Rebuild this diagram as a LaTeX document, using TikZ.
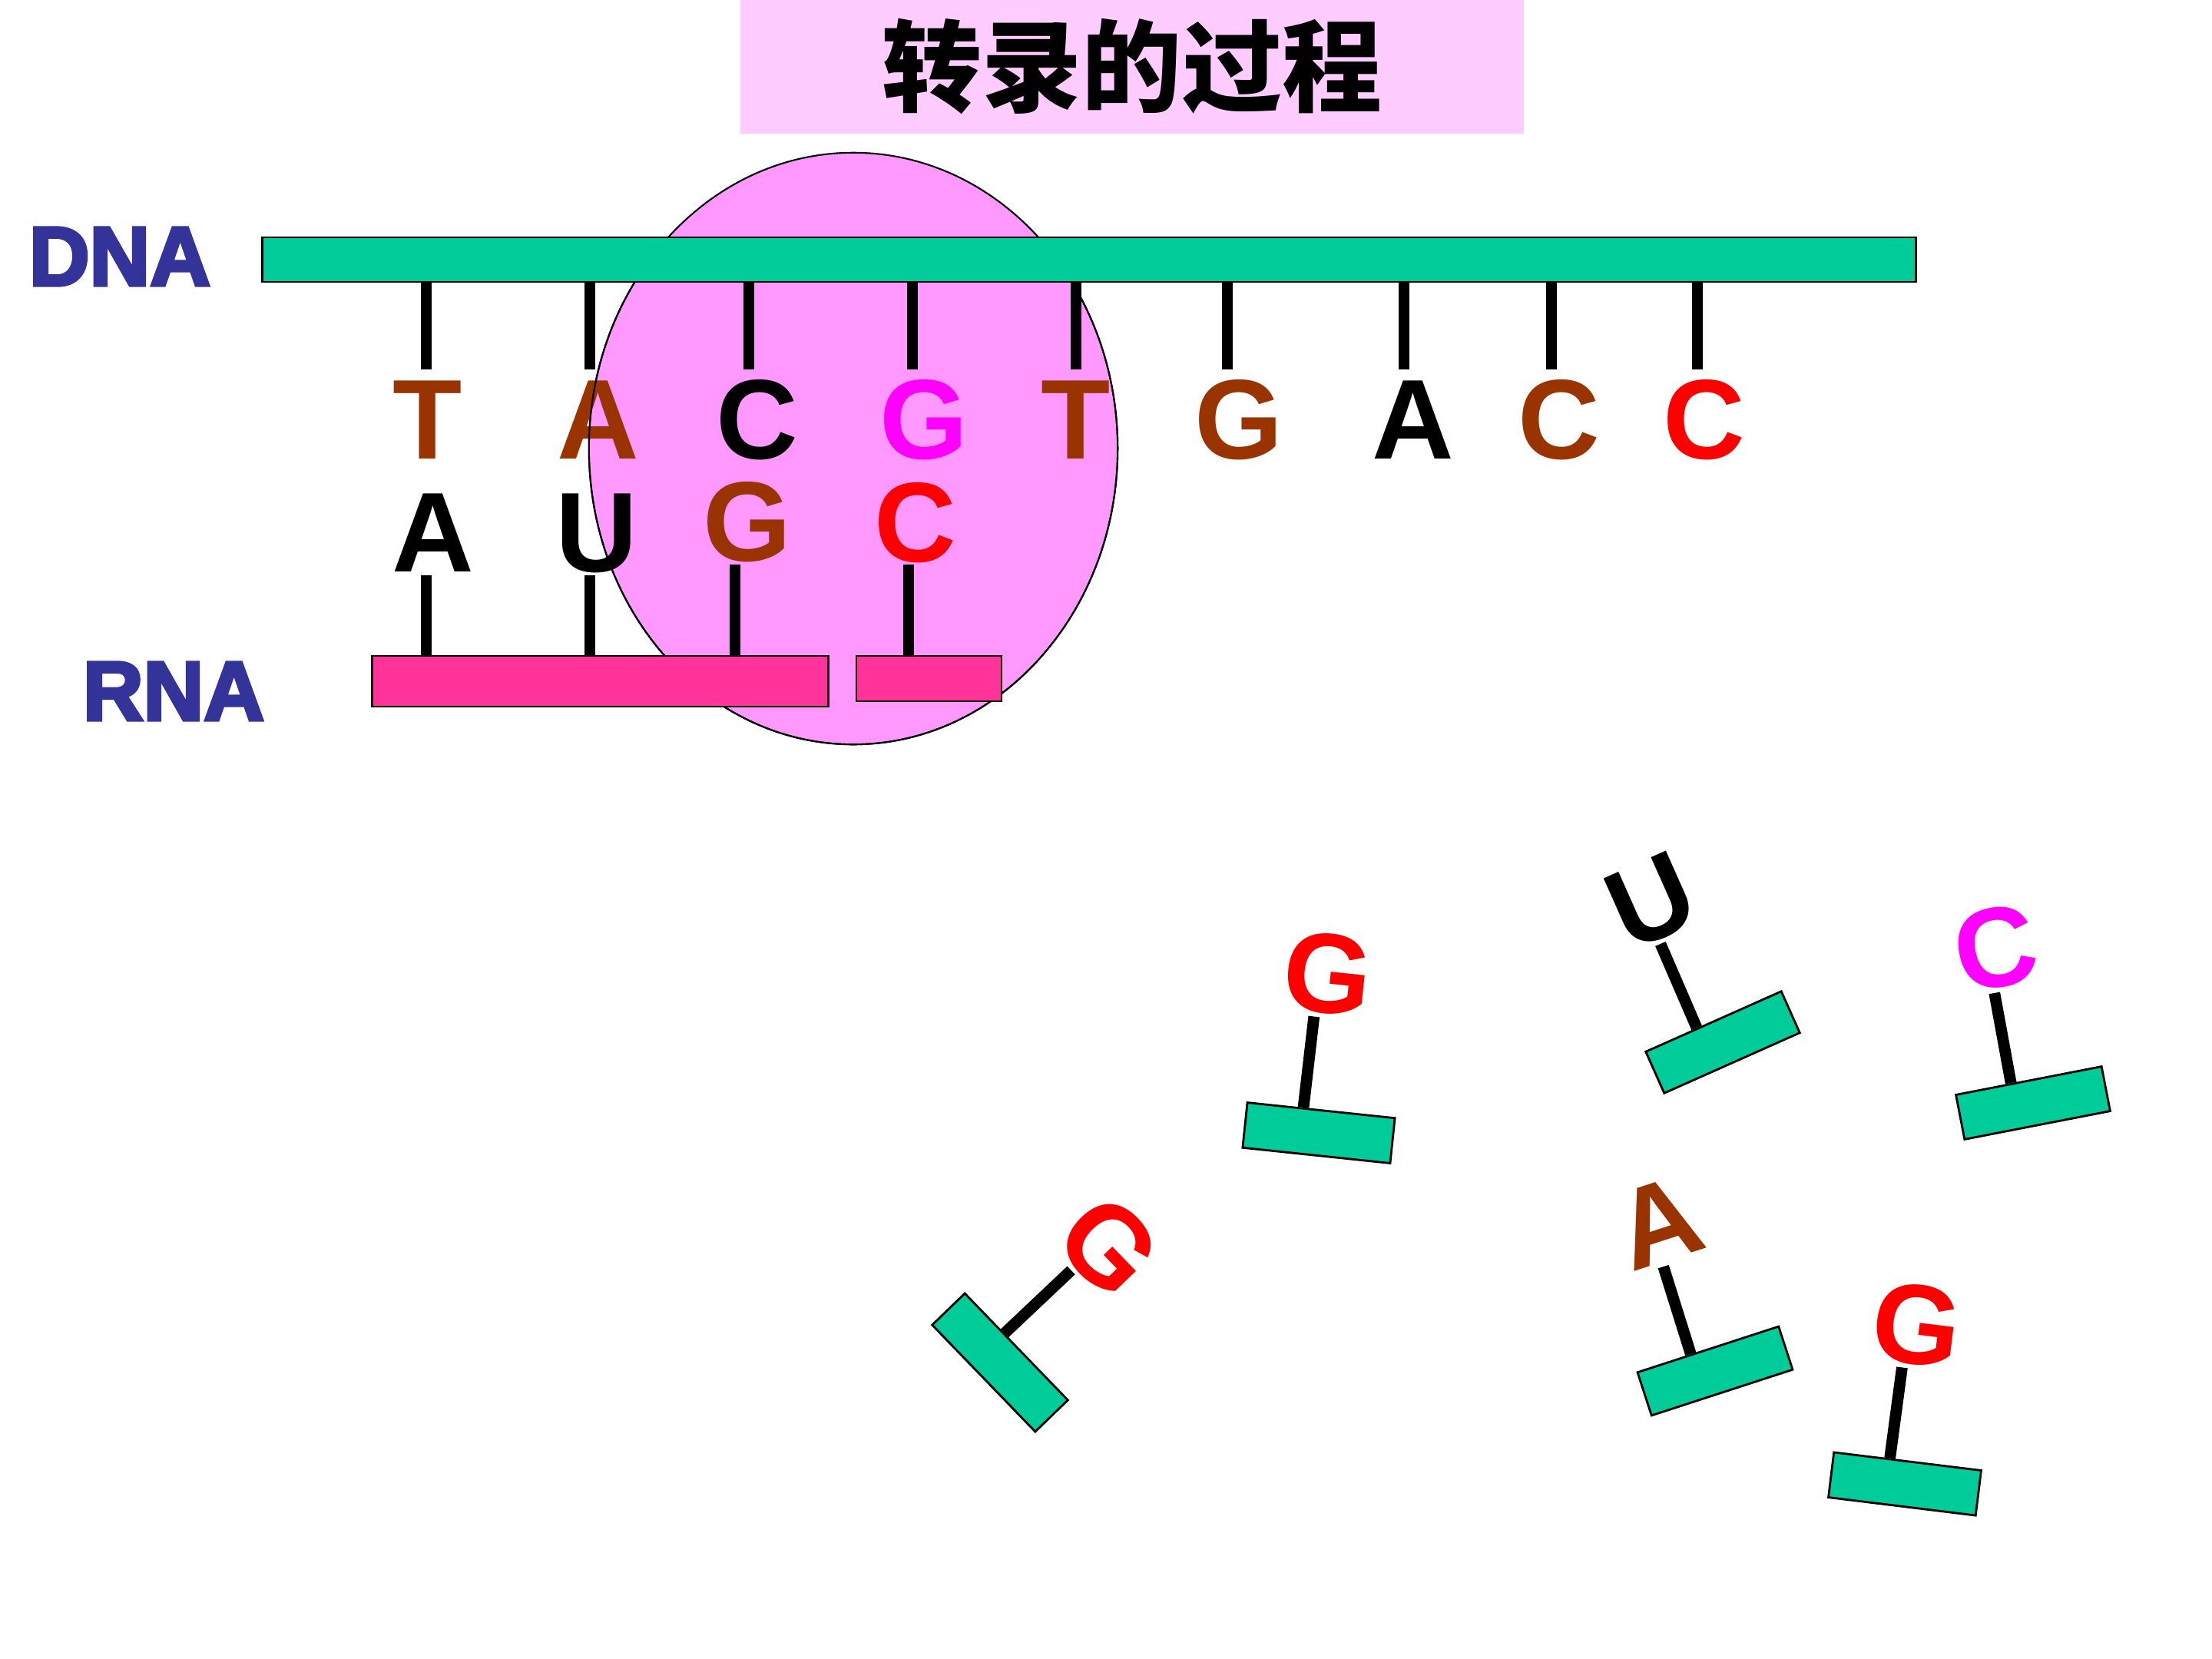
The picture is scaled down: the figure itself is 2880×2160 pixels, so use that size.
\documentclass[tikz,border=0pt]{standalone}
\usepackage{fontspec}
\setmainfont{Liberation Sans}
\newfontfamily\cjk{Noto Sans CJK SC}
\newfontfamily\heavyfont{Liberation Sans}[FakeBold=4]
\usetikzlibrary{positioning}

\definecolor{dnagreen}{HTML}{00CC99}
\definecolor{rnapink}{HTML}{FF3399}
\definecolor{enzyme}{HTML}{FF99FF}
\definecolor{titlepink}{HTML}{FFCCFF}
\definecolor{strandblue}{HTML}{333399}
\definecolor{basebrown}{HTML}{993300}
\definecolor{basemagenta}{HTML}{FF00FF}
\definecolor{basered}{HTML}{FF0000}

\begin{document}
\begin{tikzpicture}[x=0.01cm, y=-0.01cm,
  strand/.style={draw, line width=0.8pt, inner sep=0pt},
  sugar/.style={strand, fill=dnagreen, minimum width=1.93cm, minimum height=0.59cm},
  bond/.style={line width=4.2pt},
  nt/.style={inner sep=0pt, text height=30.6pt, text depth=0pt, font=\fontsize{42}{48}\selectfont\bfseries},
  strandname/.style={inner sep=0pt, text=strandblue, font=\heavyfont\bfseries\fontsize{31}{36}\selectfont}]
  \useasboundingbox (0,0) rectangle (2880,2160);
  \fill[white] (0,0) rectangle (2880,2160);

  % title
  \node[fill=titlepink, minimum width=10.2cm, minimum height=1.74cm, inner sep=0pt,
        font=\cjk\bfseries\fontsize{37}{40}\selectfont] (title) at (1474,87) {转录的过程};

  % RNA polymerase
  \draw[fill=enzyme, line width=0.6pt] (1111,584) ellipse [x radius=3.44cm, y radius=3.85cm];

  % DNA strand
  \node[strand, fill=dnagreen, minimum width=21.52cm, minimum height=0.58cm] (dna) at (1418,338) {};
  \node[strandname] (dnaname) at (156,334) {DNA};

  \foreach \x/\lx/\l/\c [count=\i] in {555/557/T/basebrown, 768/779/A/basebrown, 975/986/C/black,
      1188/1203/G/basemagenta, 1401/1401/T/basebrown, 1598/1613/G/basebrown, 1828/1840/A/black,
      2020/2030/C/basebrown, 2210/2219/C/basered} {
    \node[nt, text=\c] (t\i) at (\lx,544) {\l};
    \coordinate (k\i) at (\x,481);
    \draw[bond] (k\i |- dna.south) -- (k\i);
  }

  % RNA strand
  \coordinate (rnatop) at (0,854);
  \foreach \x/\lx/\y/\ly/\l/\c [count=\i] in {555/564/749/691/A/black, 768/777/749/691/U/black,
      957/973/735/677/G/basebrown, 1183/1192/735/678/C/basered} {
    \node[nt, text=\c] (b\i) at (\lx,\ly) {\l};
    \coordinate (m\i) at (\x,\y);
    \draw[bond] (m\i) -- (m\i |- rnatop);
  }

  \begin{scope}
    \clip (0,368) rectangle (2880,2160);
    \draw[line width=0.6pt] (1111,584) ellipse [x radius=3.44cm, y radius=3.85cm];
  \end{scope}

  \node[strand, fill=rnapink, minimum width=5.93cm, minimum height=0.66cm] (rna1) at (781.5,887) {};
  \node[strand, fill=rnapink, minimum width=1.89cm, minimum height=0.59cm] (rna2) at (1209.5,883.5) {};
  \node[strandname] (rnaname) at (226,900) {RNA};

  % free nucleotides
  \foreach \px/\py/\ang/\l/\c [count=\n] in {1717/1475/-6/G/basered, 2243/1357/24/U/black,
      2647/1436/11/C/basemagenta, 1302/1774/-46/G/basered, 2233/1785/18/A/basebrown, 2480/1932/-7/G/basered} {
    \begin{scope}[shift={(\px,\py)}, rotate=\ang, transform shape]
      \node[sugar] (s\n) at (0,0) {};
      \node[nt, text=\c] (f\n) at (-10,-210) {\l};
      \coordinate (e\n) at (-22,-150);
      \draw[bond] (s\n.127) -- (e\n);
    \end{scope}
  }
\end{tikzpicture}
\end{document}
